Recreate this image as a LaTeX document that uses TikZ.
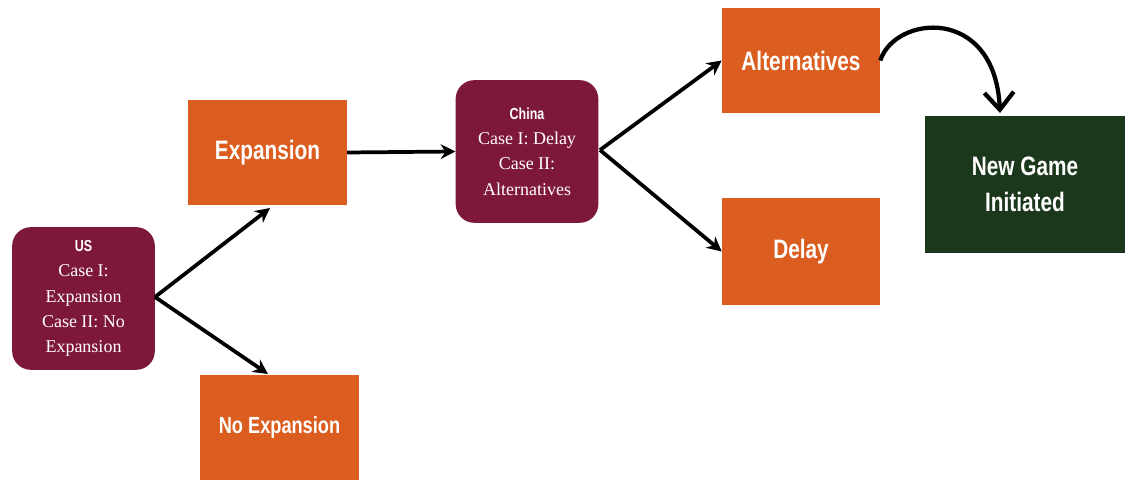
\documentclass[tikz,border=0pt]{standalone}
\usepackage{fontspec}
\setmainfont{Liberation Serif}
\newfontfamily\headfont[FakeStretch=0.78]{Liberation Sans Bold}
\usetikzlibrary{arrows.meta}
\definecolor{maroon}{HTML}{7E1838}
\definecolor{orng}{HTML}{DB5E20}
\definecolor{dgreen}{HTML}{1C381C}
\tikzset{
  player/.style={fill=maroon, rounded corners=14pt, text=white, align=center, inner sep=0pt, font=\fontsize{13.5}{19}\selectfont},
  choice/.style={fill=orng, text=white, inner sep=0pt, font=\headfont\fontsize{20}{24}\selectfont},
  outcome/.style={fill=dgreen, text=white, inner sep=0pt, align=center, font=\headfont\fontsize{20}{27}\selectfont},
  conn/.style={line width=2.8pt, -{Stealth[length=11pt,width=11pt]}},
}
\begin{document}
\begin{tikzpicture}[x=0.75pt,y=-0.75pt]
\useasboundingbox (0,0) rectangle (1129,495);
\node[player, minimum width=107pt, minimum height=107pt] (us) at (83.5,298.5)
  {{\headfont\fontsize{12}{21}\selectfont US}\\Case I:\\Expansion\\Case II: No\\Expansion};
\node[choice, minimum width=119pt, minimum height=79pt] (exp) at (267.5,152.5) {Expansion};
\node[choice, minimum width=119pt, minimum height=79pt, font=\headfont\fontsize{17.5}{22}\selectfont] (noexp) at (279.5,427.5) {No Expansion};
\node[player, minimum width=107pt, minimum height=107pt] (china) at (527,151.5)
  {{\headfont\fontsize{12}{21}\selectfont China}\\Case I: Delay\\Case II:\\Alternatives};
\node[choice, minimum width=118.5pt, minimum height=79pt] (alt) at (801,60.5) {Alternatives};
\node[choice, minimum width=118.5pt, minimum height=80pt] (delay) at (801,251.5) {Delay};
\node[outcome, minimum width=150pt, minimum height=103pt] (new) at (1025,184.5) {New Game\\Initiated};
\coordinate (usout) at (155,297);
\coordinate (chout) at (600,150);
\draw[conn] (usout) -- (270,208);
\draw[conn] (usout) -- (268,374);
\draw[conn] (exp.east) -- (china.west);
\draw[conn] (chout) -- (alt.west);
\draw[conn] (chout) -- (delay.west);
\draw[line width=3.2pt, -{Straight Barb[length=13pt,width=22pt,line width=3.2pt]}]
  (alt.east) .. controls (895,15) and (995,5) .. (1000,113);
\end{tikzpicture}
\end{document}
